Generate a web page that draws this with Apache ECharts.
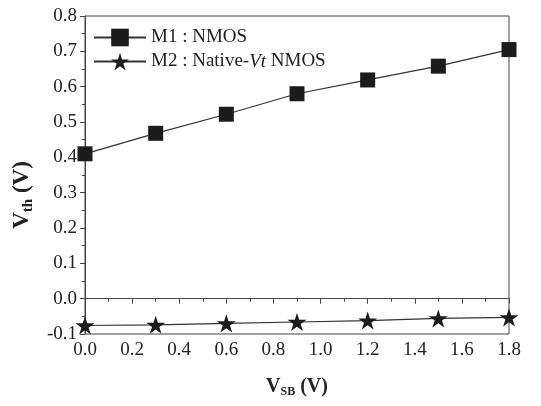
<!DOCTYPE html>
<html><head><meta charset="utf-8">
<script src="https://cdn.jsdelivr.net/npm/echarts@6/dist/echarts.min.js"></script>
<style>html,body{margin:0;padding:0;background:#fff}#c{width:541px;height:406px}</style>
</head><body><div id="c"></div>
<script>
var vsb = [0.0, 0.3, 0.6, 0.9, 1.2, 1.5, 1.8];
var m1NMOS = [0.41, 0.468, 0.522, 0.58, 0.619, 0.658, 0.705];
var m2Native = [-0.076, -0.074, -0.07, -0.066, -0.062, -0.056, -0.053];
var seriesNames = ['M1 : NMOS', 'M2 : Native-Vt NMOS'];
var xTicks = {min: 0, max: 1.8, interval: 0.2};
var yTicks = {min: -0.1, max: 0.8, interval: 0.1};

var STAR = 'path://M50 0L61.2 34.5L97.6 34.5L68.2 55.9L79.4 90.5L50 69.1L20.6 90.5L31.8 55.9L2.4 34.5L38.8 34.5Z';
var FONT = '"Liberation Serif", "Times New Roman", serif';
var ink = '#222';

function pairs(xs, ys){ return xs.map(function(x,i){ return [x, ys[i]]; }); }

var chart = echarts.init(document.getElementById('c'), null, {renderer:'canvas'});
chart.setOption({
  animation: false,
  backgroundColor: '#fff',
  grid: {left: 85, right: 32, top: 16, bottom: 72, show: true, borderColor: '#444', borderWidth: 1, backgroundColor: 'transparent'},
  legend: {
    left: 88, top: 23, orient: 'vertical', itemWidth: 52, itemHeight: 22, itemGap: 5,
    data: seriesNames,
    textStyle: {fontFamily: FONT, fontSize: 19, color: ink,
      rich: {n: {fontFamily: FONT, fontSize: 19, color: ink}, i: {fontFamily: FONT, fontSize: 19, color: ink, fontStyle: 'italic'}}},
    formatter: function(name){
      if (name === seriesNames[1]) return '{n|M2 : Native-}{i|Vt}{n| NMOS}';
      return '{n|' + name + '}';
    }
  },
  xAxis: {
    type: 'value', min: xTicks.min, max: xTicks.max, interval: xTicks.interval,
    axisLine: {show: true, lineStyle: {color: '#444', width: 1}},
    axisTick: {show: true, inside: false, length: 5, lineStyle: {color: '#444'}},
    minorTick: {show: true, splitNumber: 2, length: 3, lineStyle: {color: '#444'}},
    splitLine: {show: false},
    axisLabel: {fontFamily: FONT, fontSize: 19, color: ink, margin: 7, formatter: function(v){ return v.toFixed(1); }},
    name: '{v|V}{s|SB}{v| (V)}', nameLocation: 'middle', nameGap: 41,
    nameTextStyle: {rich: {
      v: {fontFamily: FONT, fontSize: 20, fontWeight: 'bold', color: ink},
      s: {fontFamily: FONT, fontSize: 12, fontWeight: 'bold', color: ink, padding: [11, 0, 0, 0]}
    }}
  },
  yAxis: {
    type: 'value', min: yTicks.min, max: yTicks.max, interval: yTicks.interval,
    axisLine: {show: true, onZero: false, lineStyle: {color: '#444', width: 1}},
    axisTick: {show: true, inside: false, length: 5, lineStyle: {color: '#444'}},
    minorTick: {show: true, splitNumber: 2, length: 3, lineStyle: {color: '#444'}},
    splitLine: {show: false},
    axisLabel: {fontFamily: FONT, fontSize: 19, color: ink, margin: 8, formatter: function(v){ return v.toFixed(1); }},
    name: '{v|V}{s|th}{v| (V)}', nameLocation: 'middle', nameGap: 47,
    nameTextStyle: {padding: [0, 40, 0, 0], rich: {
      v: {fontFamily: FONT, fontSize: 23, fontWeight: 'bold', color: ink},
      s: {fontFamily: FONT, fontSize: 15, fontWeight: 'bold', color: ink, padding: [12, 0, 0, 0]}
    }}
  },
  series: [
    {name: seriesNames[0], type: 'line', data: pairs(vsb, m1NMOS), symbol: 'rect', symbolSize: 15,
     clip: true, lineStyle: {color: '#333', width: 1.2}, itemStyle: {color: '#1c1c1c'}},
    {name: seriesNames[1], type: 'line', data: pairs(vsb, m2Native), symbol: STAR, symbolSize: 19, symbolKeepAspect: true,
     clip: true, lineStyle: {color: '#333', width: 1.2}, itemStyle: {color: '#1c1c1c'}}
  ]
});
</script></body></html>
